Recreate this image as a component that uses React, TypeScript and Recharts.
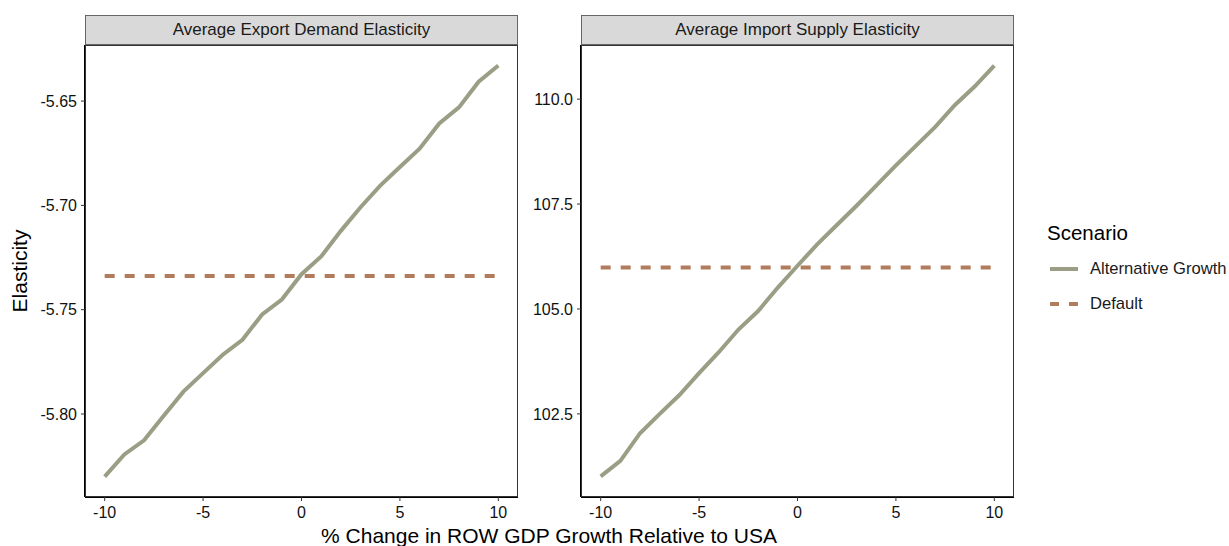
import { LineChart, Line, XAxis, YAxis } from "recharts";

// % change in ROW GDP growth relative to USA
const growth = [-10, -9, -8, -7, -6, -5, -4, -3, -2, -1, 0, 1, 2, 3, 4, 5, 6, 7, 8, 9, 10];

const exportAlt = [
  -5.83, -5.8194, -5.8126, -5.8008, -5.7893, -5.7804, -5.7716, -5.7644, -5.7523, -5.7451,
  -5.733, -5.7245, -5.7122, -5.7009, -5.6905, -5.6816, -5.6728, -5.6607, -5.653, -5.6407, -5.6329,
];
const exportDefault = -5.7339;

const importAlt = [
  101.01, 101.38, 102.04, 102.5, 102.95, 103.47, 103.97, 104.51, 104.95, 105.51,
  106.03, 106.54, 107.0, 107.46, 107.94, 108.42, 108.88, 109.34, 109.86, 110.3, 110.8,
];
const importDefault = 105.99;

const xTicks = [-10, -5, 0, 5, 10];
const exportTicks = [-5.8, -5.75, -5.7, -5.65];
const importTicks = [102.5, 105, 107.5, 110];

const GREEN = "#9b9e85";
const BROWN = "#b17c5c";
const FONT = "'Liberation Sans', Arial, sans-serif";

const exportData = growth.map((x, i) => ({ x, alt: exportAlt[i], def: exportDefault }));
const importData = growth.map((x, i) => ({ x, alt: importAlt[i], def: importDefault }));

type PanelProps = {
  left: number;
  title: string;
  data: { x: number; alt: number; def: number }[];
  domain: [number, number];
  ticks: number[];
  digits: number;
};

const Panel = ({ left, title, data, domain, ticks, digits }: PanelProps) => (
  <div style={{ position: "absolute", left, top: 0, width: 522, height: 546 }}>
    <LineChart width={522} height={546} data={data} margin={{ top: 45, right: 4, bottom: 19, left: 0 }}>
      <XAxis
        dataKey="x"
        type="number"
        domain={[-11, 11]}
        ticks={xTicks}
        allowDataOverflow
        height={30}
        axisLine={{ stroke: "#000", strokeWidth: 2 }}
        tickLine={{ stroke: "#333" }}
        tickSize={4}
        tickMargin={6}
        tick={{ fill: "#111", fontSize: 16, fontFamily: FONT }}
      />
      <YAxis
        type="number"
        domain={domain}
        ticks={ticks}
        allowDataOverflow
        width={85}
        axisLine={{ stroke: "#000", strokeWidth: 2 }}
        tickLine={{ stroke: "#333" }}
        tickSize={4}
        tickMargin={4}
        tickFormatter={(v: number) => v.toFixed(digits)}
        tick={{ fill: "#111", fontSize: 16, fontFamily: FONT }}
      />
      <Line dataKey="def" stroke={BROWN} strokeWidth={4} strokeDasharray="10 10" dot={false} isAnimationActive={false} />
      <Line dataKey="alt" stroke={GREEN} strokeWidth={4} dot={false} isAnimationActive={false} />
    </LineChart>
    {/* panel border */}
    <div
      style={{
        position: "absolute", left: 85, top: 45, width: 433, height: 452,
        border: "1px solid #333", boxSizing: "border-box", pointerEvents: "none",
      }}
    />
    {/* facet strip */}
    <div
      style={{
        position: "absolute", left: 85, top: 15, width: 433, height: 30,
        background: "#d9d9d9", border: "1px solid #666", boxSizing: "border-box",
        display: "flex", alignItems: "center", justifyContent: "center",
        fontFamily: FONT, fontSize: 17, color: "#1a1a1a", whiteSpace: "nowrap",
      }}
    >
      {title}
    </div>
  </div>
);

export default function App() {
  return (
    <div style={{ position: "absolute", left: 0, top: 0, width: 1229, height: 546, background: "#fff", overflow: "hidden", fontFamily: FONT }}>
      <Panel left={0} title="Average Export Demand Elasticity" data={exportData} domain={[-5.8398, -5.6231]} ticks={exportTicks} digits={2} />
      <Panel left={496} title="Average Import Supply Elasticity" data={importData} domain={[100.52, 111.29]} ticks={importTicks} digits={1} />

      {/* y axis title */}
      <div
        style={{
          position: "absolute", left: 20, top: 271, transform: "translate(-50%, -50%) rotate(-90deg)",
          fontSize: 21, color: "#000", whiteSpace: "nowrap",
        }}
      >
        Elasticity
      </div>

      {/* x axis title */}
      <div
        style={{
          position: "absolute", left: 549, top: 536, transform: "translate(-50%, -50%)",
          fontSize: 21, color: "#000", whiteSpace: "nowrap",
        }}
      >
        % Change in ROW GDP Growth Relative to USA
      </div>

      {/* legend */}
      <div style={{ position: "absolute", left: 1047, top: 221, fontSize: 20.5, color: "#000", whiteSpace: "nowrap" }}>Scenario</div>
      <svg style={{ position: "absolute", left: 1048, top: 258 }} width={32} height={60}>
        <line x1={2} y1={11} x2={30} y2={11} stroke={GREEN} strokeWidth={4} />
        <line x1={2} y1={46} x2={30} y2={46} stroke={BROWN} strokeWidth={4} strokeDasharray="9 10" />
      </svg>
      <div style={{ position: "absolute", left: 1090, top: 259, fontSize: 16.6, color: "#1a1a1a", whiteSpace: "nowrap" }}>Alternative Growth</div>
      <div style={{ position: "absolute", left: 1090, top: 294, fontSize: 16.6, color: "#1a1a1a", whiteSpace: "nowrap" }}>Default</div>
    </div>
  );
}
